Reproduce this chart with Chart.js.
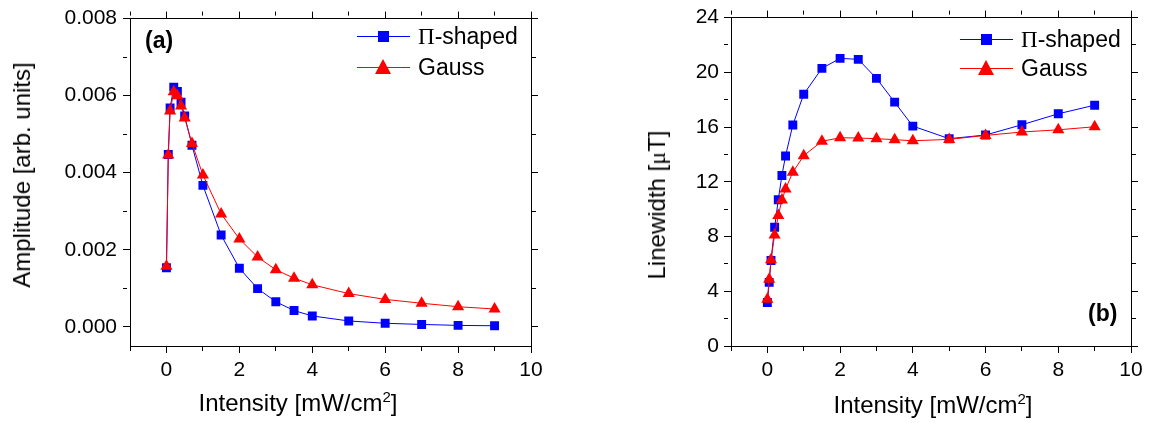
<!DOCTYPE html>
<html>
<head>
<meta charset="utf-8">
<script src="https://cdn.jsdelivr.net/npm/chart.js@4.4.1/dist/chart.umd.min.js"></script>
<style>
  html, body { margin: 0; padding: 0; background: #fff; }
  body { width: 1153px; height: 423px; overflow: hidden; position: relative;
         font-family: "Liberation Sans", Arial, sans-serif; color: #000; }
  canvas { position: absolute; top: 0; }
  #c1 { left: 0; }
  #c2 { left: 576px; }
  .t { position: absolute; white-space: nowrap; line-height: 1; font-size: 24px;
       transform: translate(-50%, -50%); }
  .rot { transform: translate(-50%, -50%) rotate(-90deg); }
  .sup { font-size: 15px; position: relative; top: -9px; }
  .lab { position: absolute; font-weight: bold; font-size: 23px; line-height: 1; }
  .leg { position: absolute; font-size: 23px; line-height: 1; }
  .row { position: absolute; left: 0; height: 24px; white-space: nowrap; }
  .ln { position: absolute; left: 0; width: 53px; height: 1px; top: 12px; }
  .sq { position: absolute; left: 21px; top: 7px; width: 11px; height: 11px; background: #0000ff; }
  .tri { position: absolute; left: 18px; top: 4px; width: 0; height: 0;
         border-left: 8.5px solid transparent; border-right: 8.5px solid transparent;
         border-bottom: 15px solid #ff0000; }
  .txt { position: absolute; left: 61px; top: 1px; }
  .pi { font-family: "Liberation Serif", "DejaVu Serif", serif; }
</style>
</head>
<body>
<canvas id="c1" width="576" height="423"></canvas>
<canvas id="c2" width="577" height="423"></canvas>

<div class="t rot" style="left:22px; top:175px;">Amplitude [arb. units]</div>
<div class="t" style="left:298px; top:403px;">Intensity [mW/cm<span class="sup">2</span>]</div>
<div class="t rot" style="left:657px; top:205px;">Linewidth [<span class="pi">μ</span>T]</div>
<div class="t" style="left:933px; top:405px;">Intensity [mW/cm<span class="sup">2</span>]</div>

<div class="lab" style="left:145px; top:29px;">(a)</div>
<div class="lab" style="left:1088px; top:302px;">(b)</div>

<div class="leg" style="left:357px; top:24px;">
  <div class="row" style="top:0;"><div class="ln" style="background:#0000ff"></div><div class="sq"></div><div class="txt"><span class="pi">Π</span>-shaped</div></div>
  <div class="row" style="top:31px;"><div class="ln" style="background:#ff0000"></div><div class="tri"></div><div class="txt">Gauss</div></div>
</div>
<div class="leg" style="left:960px; top:27px;">
  <div class="row" style="top:0;"><div class="ln" style="background:#0000ff"></div><div class="sq"></div><div class="txt"><span class="pi">Π</span>-shaped</div></div>
  <div class="row" style="top:29px;"><div class="ln" style="background:#ff0000"></div><div class="tri"></div><div class="txt">Gauss</div></div>
</div>

<script>
// ---- data ----
const intensity = [0, 0.05, 0.1, 0.2, 0.3, 0.4, 0.5, 0.7, 1, 1.5, 2, 2.5, 3, 3.5, 4, 5, 6, 7, 8, 9];
const ampPi    = [0.00153, 0.00447, 0.00568, 0.00622, 0.00611, 0.00583, 0.00547, 0.00471, 0.00367, 0.00238,
                  0.00152, 0.00099, 0.00065, 0.00042, 0.00028, 0.00015, 0.00009, 0.00006, 0.000035, 0.000025];
const ampGauss = [0.00157, 0.00446, 0.00560, 0.00610, 0.00600, 0.00573, 0.00542, 0.00476, 0.00394, 0.00293,
                  0.00228, 0.00181, 0.00148, 0.00126, 0.00109, 0.00086, 0.00071, 0.00061, 0.00052, 0.00046];
const lwPi     = [3.18, 4.65, 6.25, 8.68, 10.69, 12.46, 13.89, 16.15, 18.4, 20.29,
                  21.02, 20.95, 19.56, 17.82, 16.07, 15.15, 15.42, 16.17, 16.97, 17.6];
const lwGauss  = [3.42, 4.87, 6.3, 8.12, 9.53, 10.67, 11.47, 12.7, 13.91, 14.96,
                  15.22, 15.2, 15.15, 15.08, 15.0, 15.1, 15.39, 15.64, 15.8, 16.02];
const xTickLabels = ['0', '2', '4', '6', '8', '10'];
const ampTickLabels = ['0.000', '0.002', '0.004', '0.006', '0.008'];
const lwTickLabels = ['0', '4', '8', '12', '16', '20', '24'];

function pts(xs, ys) { return xs.map((x, i) => ({ x: x, y: ys[i] })); }

const TICKFONT = { family: '"Liberation Sans", Arial, sans-serif', size: 21 };

function axis(opts) {
  const { position, min, max, step, major, labels, fmt, size, tickPad, showLabels } = opts;
  return {
    type: 'linear', position, min, max,
    afterFit: (s) => { if (s.isHorizontal()) s.height = size; else s.width = size; },
    ticks: {
      display: showLabels, stepSize: step, autoSkip: false, maxRotation: 0, includeBounds: false,
      color: '#000', font: TICKFONT, padding: tickPad,
      callback: (v) => { const s = fmt(v); return labels.includes(s) ? s : ''; }
    },
    grid: {
      display: true, drawOnChartArea: false, drawTicks: true, tickLength: 7,
      tickColor: '#000', tickWidth: 1,
      tickBorderDash: (ctx) => (ctx.tick && !major(ctx.tick.value)) ? [4, 100] : []
    },
    border: { display: true, color: '#000', width: 1 }
  };
}

function isMult(v, m) { const r = v / m; return Math.abs(r - Math.round(r)) < 1e-6; }

function makeChart(id, piData, gData, yMin, yMax, yStep, yMajor, yLabels, yFmt, leftW, rightW, yPad) {
  const xFmt = (v) => String(Math.round(v));
  return new Chart(document.getElementById(id), {
    type: 'scatter',
    data: {
      datasets: [
        { label: 'Gauss', data: pts(intensity, gData), showLine: true, order: 0,
          borderColor: '#ff0000', backgroundColor: '#ff0000', borderWidth: 1,
          pointStyle: 'triangle', pointRadius: 7, pointHoverRadius: 7, pointBorderWidth: 0 },
        { label: 'Π-shaped', data: pts(intensity, piData), showLine: true, order: 1,
          borderColor: '#0000ff', backgroundColor: '#0000ff', borderWidth: 1,
          pointStyle: 'rect', pointRadius: 6.3, pointHoverRadius: 6.3, pointBorderWidth: 0 }
      ]
    },
    options: {
      responsive: false, animation: false, devicePixelRatio: 1,
      layout: { padding: 0 },
      plugins: { legend: { display: false }, tooltip: { enabled: false } },
      scales: {
        x: axis({ position: 'bottom', min: -1, max: 10, step: 1, major: (v) => isMult(v, 2),
                  labels: xTickLabels, fmt: xFmt, size: 77, tickPad: 5, showLabels: true }),
        xTop: axis({ position: 'top', min: -1, max: 10, step: 1, major: (v) => isMult(v, 2),
                  labels: xTickLabels, fmt: xFmt, size: 16, tickPad: 0, showLabels: false }),
        y: axis({ position: 'left', min: yMin, max: yMax, step: yStep, major: yMajor,
                  labels: yLabels, fmt: yFmt, size: leftW, tickPad: yPad, showLabels: true }),
        yRight: axis({ position: 'right', min: yMin, max: yMax, step: yStep, major: yMajor,
                  labels: yLabels, fmt: yFmt, size: rightW, tickPad: 0, showLabels: false })
      }
    }
  });
}

makeChart('c1', ampPi, ampGauss, -0.0005, 0.008, 0.001, (v) => isMult(v, 0.002),
          ampTickLabels, (v) => v.toFixed(3), 130, 45, 6);
makeChart('c2', lwPi, lwGauss, 0, 24, 2, (v) => isMult(v, 4),
          lwTickLabels, (v) => String(Math.round(v)), 155, 22, 5);
</script>
</body>
</html>
